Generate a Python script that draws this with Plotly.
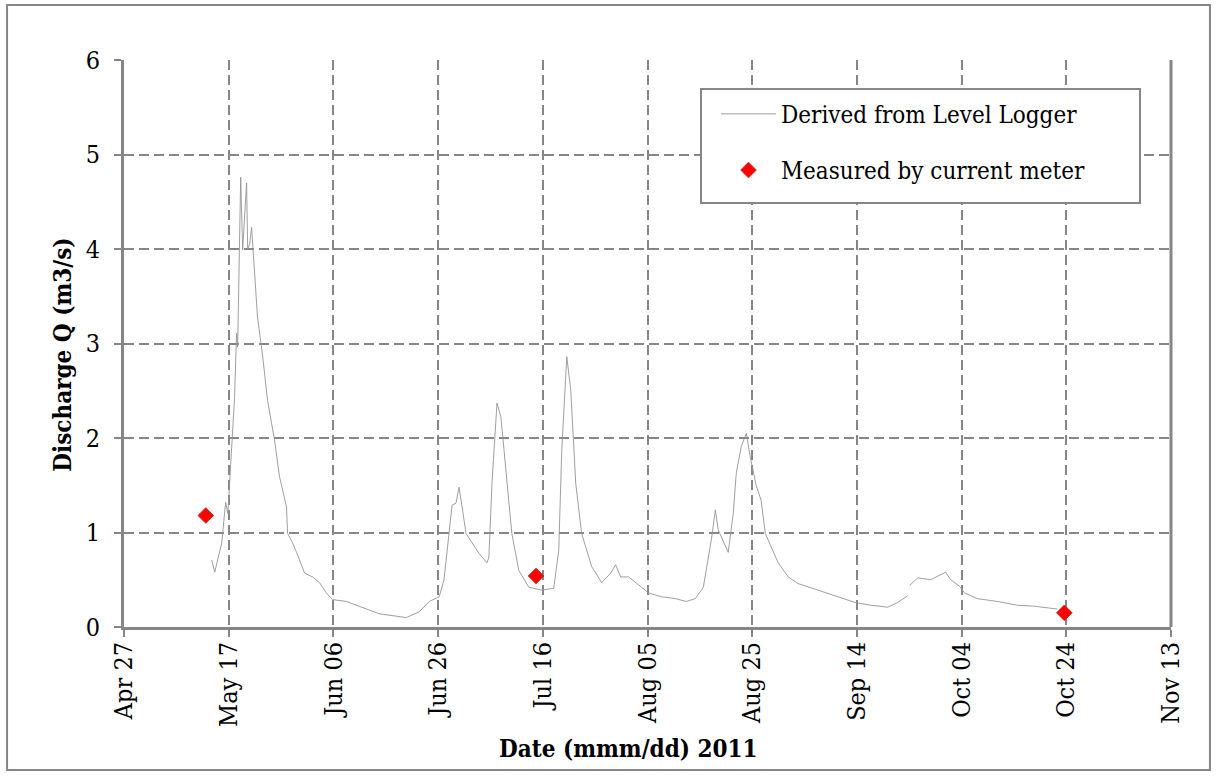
import plotly.graph_objects as go

# ---- data ----
logger_dates = [
    "2011-05-13 18:00", "2011-05-14 08:00", "2011-05-15 16:00", "2011-05-16 10:00", "2011-05-16 20:00",
    "2011-05-17 09:00", "2011-05-18 03:00", "2011-05-18 12:00", "2011-05-18 17:00", "2011-05-19 07:00",
    "2011-05-19 16:00", "2011-05-20 10:00", "2011-05-20 15:00", "2011-05-21 00:00", "2011-05-21 09:00",
    "2011-05-22 12:00", "2011-05-23 12:00", "2011-05-24 10:00", "2011-05-25 18:00", "2011-05-26 17:00",
    "2011-05-28 01:00", "2011-05-28 06:00", "2011-05-29 05:00", "2011-05-29 23:00", "2011-05-31 12:00",
    "2011-06-02 00:00", "2011-06-03 08:00", "2011-06-04 16:00", "2011-06-05 20:00", "2011-06-08 12:00",
    "2011-06-11 12:00", "2011-06-14 18:00", "2011-06-19 22:00", "2011-06-22 09:00", "2011-06-24 07:00",
    "2011-06-26 05:00", "2011-06-27 03:00", "2011-06-28 02:00", "2011-06-28 16:00", "2011-06-29 10:00",
    "2011-06-30 00:00", "2011-06-30 14:00", "2011-07-01 08:00", "2011-07-02 12:00", "2011-07-03 19:00",
    "2011-07-05 08:00", "2011-07-05 17:00", "2011-07-06 07:00", "2011-07-07 06:00", "2011-07-08 00:00",
    "2011-07-09 03:00", "2011-07-10 02:00", "2011-07-11 10:00", "2011-07-13 08:00", "2011-07-15 20:00",
    "2011-07-18 02:00", "2011-07-19 01:00", "2011-07-19 15:00", "2011-07-20 14:00", "2011-07-21 08:00",
    "2011-07-22 07:00", "2011-07-23 10:00", "2011-07-25 08:00", "2011-07-27 06:00", "2011-07-28 23:00",
    "2011-07-29 22:00", "2011-07-30 21:00", "2011-08-01 09:00", "2011-08-03 21:00", "2011-08-05 05:00",
    "2011-08-07 16:00", "2011-08-10 08:00", "2011-08-12 10:00", "2011-08-14 03:00", "2011-08-15 16:00",
    "2011-08-17 05:00", "2011-08-17 23:00", "2011-08-18 12:00", "2011-08-20 10:00", "2011-08-21 09:00",
    "2011-08-21 23:00", "2011-08-22 22:00", "2011-08-23 21:00", "2011-08-24 15:00", "2011-08-25 18:00",
    "2011-08-26 17:00", "2011-08-27 12:00", "2011-08-28 15:00", "2011-08-29 23:00", "2011-08-31 21:00",
    "2011-09-02 18:00", "2011-09-06 14:00", "2011-09-10 09:00", "2011-09-13 15:00", "2011-09-16 16:00",
    "2011-09-19 22:00", "2011-09-21 19:00", "2011-09-23 17:00", "2011-09-23 22:00", "2011-09-24 02:00",
    "2011-09-25 15:00", "2011-09-28 02:00", "2011-09-30 23:00", "2011-10-01 22:00", "2011-10-03 15:00",
    "2011-10-04 14:00", "2011-10-07 01:00", "2011-10-10 21:00", "2011-10-14 16:00", "2011-10-17 22:00",
    "2011-10-21 17:00", "2011-10-22 07:00",
]
logger_q = [
    0.71, 0.58, 0.89, 1.32, 1.20,
    1.68, 2.43, 3.11, 2.96, 4.76,
    3.99, 4.70, 4.00, 4.05, 4.23,
    3.28, 2.86, 2.40, 1.98, 1.59,
    1.27, 0.99, 0.89, 0.79, 0.57,
    0.53, 0.47, 0.36, 0.29, 0.27,
    0.21, 0.14, 0.10, 0.16, 0.27,
    0.32, 0.50, 1.03, 1.29, 1.31,
    1.48, 1.27, 0.99, 0.89, 0.78,
    0.68, 0.74, 1.52, 2.37, 2.22,
    1.52, 0.99, 0.60, 0.42, 0.39,
    0.41, 0.81, 1.87, 2.86, 2.51,
    1.52, 0.99, 0.64, 0.47, 0.57,
    0.66, 0.53, 0.53, 0.42, 0.36,
    0.32, 0.30, 0.27, 0.30, 0.42,
    0.93, 1.24, 1.03, 0.79, 1.20,
    1.63, 1.91, 2.05, 1.80, 1.50,
    1.34, 0.99, 0.85, 0.68, 0.53,
    0.46, 0.39, 0.32, 0.26, 0.23,
    0.21, 0.26, 0.33, None, 0.44,
    0.52, 0.50, 0.58, 0.50, 0.43,
    0.36, 0.30, 0.27, 0.23, 0.22,
    0.20, 0.19,
]

meter_dates = ["2011-05-12 15:00", "2011-07-14 17:00", "2011-10-23 15:00"]
meter_q = [1.18, 0.54, 0.15]

x_tick_vals = ["2011-04-27", "2011-05-17", "2011-06-06", "2011-06-26", "2011-07-16", "2011-08-05",
               "2011-08-25", "2011-09-14", "2011-10-04", "2011-10-24", "2011-11-13"]
x_tick_text = ["Apr 27", "May 17", "Jun 06", "Jun 26", "Jul 16", "Aug 05",
               "Aug 25", "Sep 14", "Oct 04", "Oct 24", "Nov 13"]
y_tick_vals = [0, 1, 2, 3, 4, 5, 6]

SERIF = "DejaVu Serif Condensed, DejaVu Serif, serif"
GREY = "#868686"

fig = go.Figure()
fig.add_trace(go.Scatter(
    x=logger_dates, y=logger_q, mode="lines", name="Derived from Level Logger",
    line=dict(color="#949494", width=0.9), connectgaps=False, legendgroup="a",
))
fig.add_trace(go.Scatter(
    x=meter_dates, y=meter_q, mode="markers", name="Measured by current meter",
    marker=dict(symbol="diamond", size=12, color="#ff0000", line=dict(color="#c0302a", width=1)),
    legendgroup="b",
))

fig.update_layout(
    width=1217, height=776,
    margin=dict(l=124, r=46, t=60, b=149),
    paper_bgcolor="white", plot_bgcolor="white",
    font=dict(family=SERIF, color="black"),
    showlegend=True,
    legend=dict(
        x=0.5654, y=0.944, xanchor="left", yanchor="top",
        bgcolor="rgba(0,0,0,0)", borderwidth=0,
        font=dict(family=SERIF, size=24, color="black"),
        tracegroupgap=22, itemwidth=55,
    ),
    xaxis=dict(
        type="date", range=["2011-04-27", "2011-11-13"],
        tickmode="array", tickvals=x_tick_vals, ticktext=x_tick_text,
        tickangle=-90, tickfont=dict(family=SERIF, size=25, color="black"),
        ticklabelstandoff=-5,
        showline=True, linecolor=GREY, linewidth=3,
        ticks="outside", ticklen=7, tickcolor=GREY, tickwidth=2,
        showgrid=True, gridcolor=GREY, gridwidth=2, griddash="10px,5px",
        zeroline=False,
    ),
    yaxis=dict(
        range=[0, 6], tickmode="array", tickvals=y_tick_vals,
        tickfont=dict(family=SERIF, size=25, color="black"),
        ticklabelstandoff=9,
        showline=True, linecolor=GREY, linewidth=3,
        ticks="outside", ticklen=7, tickcolor=GREY, tickwidth=2,
        showgrid=True, gridcolor=GREY, gridwidth=2, griddash="10px,5px",
        zeroline=False,
    ),
    shapes=[
        dict(type="line", xref="paper", yref="paper", x0=1, x1=1, y0=0, y1=1,
             line=dict(color=GREY, width=3)),
        dict(type="rect", xref="paper", yref="paper", x0=-0.1117, x1=1.0372, y0=-0.2522, y1=1.097,
             line=dict(color=GREY, width=2), layer="below"),
        # legend frame
        dict(type="rect", xref="paper", yref="paper",
             x0=(701 - 124) / 1047, x1=(1140 - 124) / 1047,
             y0=(627 - 203) / 567, y1=(627 - 89) / 567,
             line=dict(color=GREY, width=2), fillcolor="white", layer="above"),
    ],
    annotations=[
        dict(text="<b>Date (mmm/dd) 2011</b>", xref="paper", yref="paper", x=0.482, y=-0.215,
             xanchor="center", yanchor="middle", showarrow=False,
             font=dict(family=SERIF, size=24, color="black")),
        dict(text="<b>Discharge Q (m3/s)</b>", xref="paper", yref="paper", x=-0.0583, y=0.48,
             xanchor="center", yanchor="middle", showarrow=False, textangle=-90,
             font=dict(family=SERIF, size=24, color="black")),
    ],
)

fig.write_html("out.html", config={"displayModeBar": False},
               post_script="document.body.style.margin='0';")
